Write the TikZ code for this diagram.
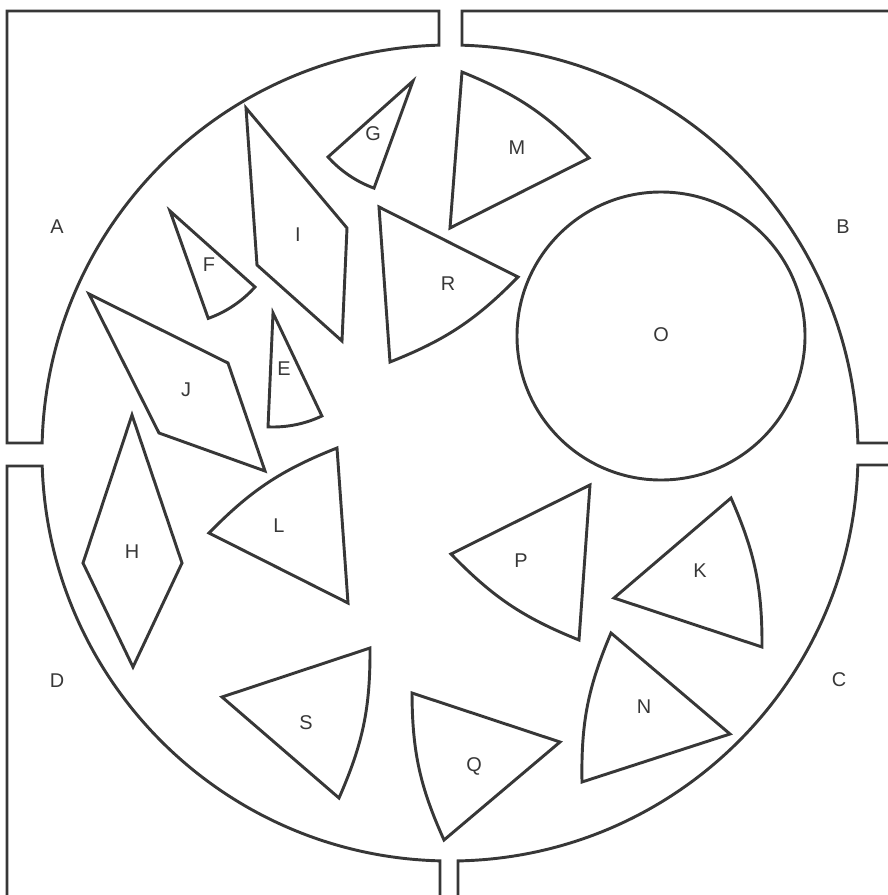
\documentclass[tikz,border=0pt]{standalone}
\usepackage{fontspec}
\setmainfont{Liberation Sans}
\definecolor{linec}{RGB}{55,55,55}
\begin{document}
\begin{tikzpicture}[x=0.03cm,y=0.03cm,
  piece/.style={draw=linec,line width=2.5pt,line join=miter},
  curv/.style={bend right=12},
  lab/.style={font=\fontsize{17pt}{20pt}\selectfont,text=linec,inner sep=0pt}]
\useasboundingbox (0,0) rectangle (887,-895);
% frame pieces
\draw[piece] (7,-443) -- (7,-11) -- (439,-11) -- (439,-45.15)
  arc[start angle=91.545,end angle=178.596,radius=408] -- cycle;
\draw[piece] (462,-11) -- (462,-45.18)
  arc[start angle=88.315,end angle=1.404,radius=408] -- (892,-443) -- (892,-11) -- cycle;
\draw[piece] (892,-465) -- (857.82,-465)
  arc[start angle=-1.6855,end angle=-88.876,radius=408] -- (458,-898) -- (892,-898) -- cycle;
\draw[piece] (7,-466) -- (42.2,-466)
  arc[start angle=181.826,end angle=268.596,radius=408] -- (440,-898) -- (7,-898) -- cycle;
% small sectors
\draw[piece] (413,-81) -- ++(221.8:114) arc[start angle=221.8,end angle=250,radius=114] -- cycle;
\draw[piece] (170,-211) -- ++(289.6:114) arc[start angle=289.6,end angle=318.2,radius=114] -- cycle;
\draw[piece] (273,-313) -- ++(267.5:114) arc[start angle=267.5,end angle=295.4,radius=114] -- cycle;
% large pieces with a curved side
\draw[piece] (450,-228) -- (589,-158) to[curv] (462,-72) -- cycle;
\draw[piece] (379,-207) -- (390,-362) to[curv] (518,-277) -- cycle;
\draw[piece] (348,-603) -- (337,-448) to[curv] (209,-533) -- cycle;
\draw[piece] (222,-697) -- (339,-798) to[curv] (370,-648) -- cycle;
\draw[piece] (590,-485) -- (451,-554) to[curv] (579,-640) -- cycle;
\draw[piece] (614,-598) -- (762,-647) to[curv] (731,-498) -- cycle;
\draw[piece] (730,-734) -- (611,-633) to[curv] (582,-782) -- cycle;
\draw[piece] (560,-742) -- (412,-693) to[curv] (444,-840) -- cycle;
% quadrilaterals
\draw[piece] (246,-108) -- (347,-228) -- (342,-341) -- (257,-265) -- cycle;
\draw[piece] (89,-294) -- (228,-363) -- (265,-471) -- (159,-433) -- cycle;
\draw[piece] (132,-415) -- (182,-563) -- (133,-667) -- (83,-563) -- cycle;
% circle
\draw[piece] (661,-336) circle[radius=144];
% labels
\node[lab] (lA) at (57,-227) {A};
\node[lab] (lB) at (843,-227) {B};
\node[lab] (lC) at (839,-680) {C};
\node[lab] (lD) at (57,-681) {D};
\node[lab] (lE) at (284,-369) {E};
\node[lab] (lF) at (209,-265) {F};
\node[lab] (lG) at (373,-134) {G};
\node[lab] (lH) at (132,-552) {H};
\node[lab] (lI) at (298,-235) {I};
\node[lab] (lJ) at (186,-390) {J};
\node[lab] (lK) at (700,-571) {K};
\node[lab] (lL) at (279,-526) {L};
\node[lab] (lM) at (517,-148) {M};
\node[lab] (lN) at (644,-707) {N};
\node[lab] (lO) at (661,-335) {O};
\node[lab] (lP) at (521,-561) {P};
\node[lab] (lQ) at (474,-766) {Q};
\node[lab] (lR) at (448,-284) {R};
\node[lab] (lS) at (306,-723) {S};
\end{tikzpicture}
\end{document}
